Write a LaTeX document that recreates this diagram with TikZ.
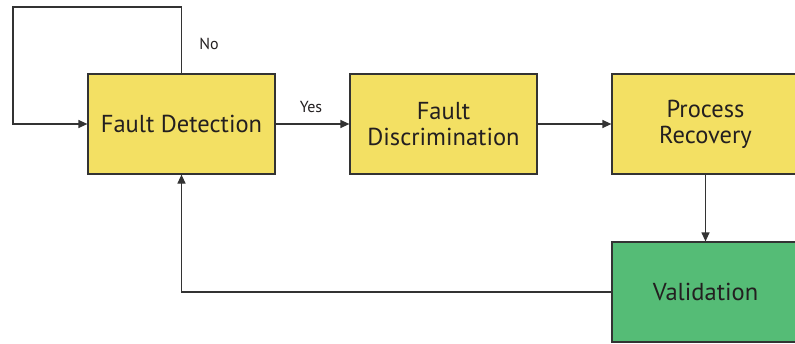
\documentclass[tikz,border=0pt]{standalone}
\usepackage{fontspec}
\setmainfont{PT Sans}
\usetikzlibrary{arrows.meta}
\definecolor{boxyellow}{HTML}{F3E063}
\definecolor{boxgreen}{HTML}{55BC76}
\definecolor{edgecol}{HTML}{333333}
\definecolor{ink}{HTML}{231F20}
\begin{document}
\begin{tikzpicture}[x=1pt,y=-1pt,
  blk/.style={draw=edgecol, line width=1.2pt, minimum width=187pt, minimum height=100pt,
    inner sep=0pt, align=center, font=\fontsize{24.5}{26}\selectfont, text=ink},
  conn/.style={draw=edgecol, line width=1.2pt, -{Triangle[length=9pt,width=8pt]}},
  lbl/.style={font=\fontsize{16}{18}\selectfont, text=ink}]
\useasboundingbox (0,0) rectangle (795,343);
\clip (0,0) rectangle (795,343);
\node[blk, fill=boxyellow] (fd) at (181.5,124) {Fault Detection};
\node[blk, fill=boxyellow] (fdis) at (443.5,124) {Fault\\Discrimination};
\node[blk, fill=boxyellow] (pr) at (705.5,124) {Process\\Recovery};
\node[blk, fill=boxgreen] (val) at (705.5,292) {Validation};
\coordinate (tl) at (13,7);
\draw[conn] (fd.north) |- (tl) |- (fd.west);
\draw[conn] (fd.east) -- (fdis.west);
\draw[conn] (fdis.east) -- (pr.west);
\draw[conn] (pr.south) -- (val.north);
\draw[conn] (val.west) -| (fd.south);
\node[lbl] (no) at (209,44) {No};
\node[lbl] (yes) at (311,107) {Yes};
\end{tikzpicture}
\end{document}
